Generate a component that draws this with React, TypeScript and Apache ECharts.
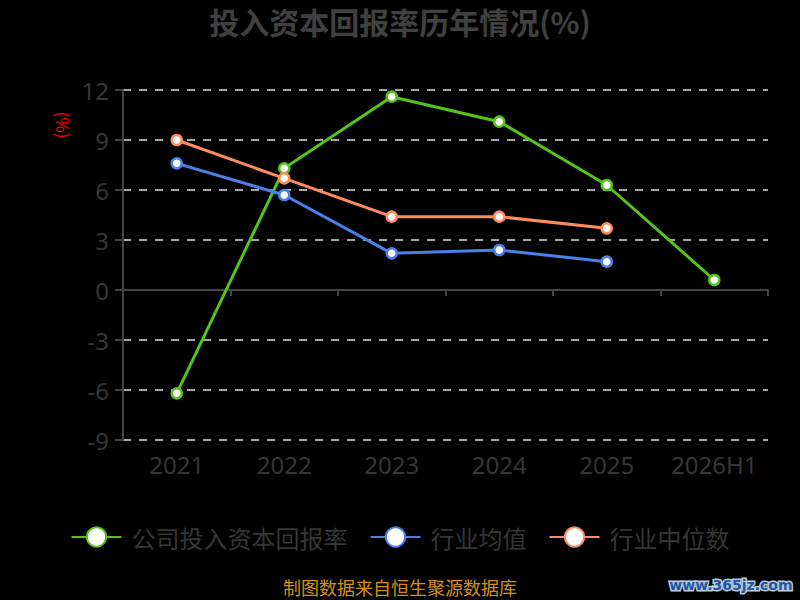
import React, { useEffect, useRef } from "react";
import * as echarts from "echarts";

const categories = ["2021", "2022", "2023", "2024", "2025", "2026H1"];
const companyValues = [-6.2, 7.3, 11.6, 10.1, 6.3, 0.6];
const industryAvg = [7.6, 5.7, 2.2, 2.4, 1.7, null];
const industryMedian = [9.0, 6.7, 4.4, 4.4, 3.7, null];
const seriesNames = ["公司投入资本回报率", "行业均值", "行业中位数"];
const seriesColors = ["#52c41a", "#4a80e8", "#ff8a5c"];

const FONT = "'Noto Sans CJK SC', 'Noto Sans', sans-serif";
const NUMFONT = "'Noto Sans', 'Open Sans', sans-serif";

export default function App() {
  const ref = useRef<HTMLDivElement>(null);
  useEffect(() => {
    if (!ref.current) return;
    const chart = echarts.init(ref.current, null, { renderer: "svg" });
    const mk = (name: string, data: any[], color: string) => ({
      name,
      type: "line",
      data,
      xAxisIndex: 0,
      symbol: "circle",
      symbolSize: 10,
      showSymbol: true,
      lineStyle: { color, width: 3 },
      itemStyle: { color: "#ffffff", borderColor: color, borderWidth: 2.5 },
      emphasis: { disabled: true },
    });
    chart.setOption({
      animation: false,
      backgroundColor: "#000000",
      textStyle: { fontFamily: FONT },
      title: {
        text: "投入资本回报率历年情况(%)",
        left: "center",
        top: 1,
        textStyle: { color: "#404040", fontSize: 30, fontWeight: "bold", fontFamily: FONT },
      },
      legend: {
        top: 520,
        left: "center",
        itemWidth: 50,
        itemHeight: 24,
        itemGap: 22,
        data: seriesNames,
        textStyle: { color: "#363636", fontSize: 24, fontFamily: FONT, padding: [0, 0, 0, 5] },
      },
      grid: { left: 123, right: 32, top: 90, bottom: 160, containLabel: false },
      xAxis: [
        {
          type: "category",
          data: categories,
          position: "bottom",
          boundaryGap: true,
          axisLine: { show: true, onZero: true, lineStyle: { color: "#444444", width: 2 } },
          axisTick: { show: true, length: 6, lineStyle: { color: "#444444", width: 2 } },
          axisLabel: { show: false },
          splitLine: { show: false },
        },
        {
          type: "category",
          data: categories,
          position: "bottom",
          boundaryGap: true,
          axisLine: { show: false, onZero: false },
          axisTick: { show: false },
          axisLabel: {
            show: true,
            interval: 0,
            hideOverlap: false,
            color: "#363636",
            fontSize: 24,
            margin: 12,
            fontFamily: NUMFONT,
          },
          splitLine: { show: false },
        },
      ],
      yAxis: {
        type: "value",
        min: -9,
        max: 12,
        interval: 3,
        axisLine: { show: true, lineStyle: { color: "#444444", width: 2 } },
        axisTick: { show: true, length: 8, lineStyle: { color: "#444444", width: 2 } },
        axisLabel: { color: "#363636", fontSize: 24, margin: 14, fontFamily: NUMFONT },
        splitLine: { show: true, lineStyle: { color: "#dddddd", type: [8, 8], width: 1.5 } },
      },
      graphic: [
        {
          type: "text",
          x: 63,
          y: 125,
          rotation: -Math.PI / 2,
          style: {
            text: "(%)",
            fill: "#ff0000",
            fontSize: 17,
            fontFamily: FONT,
            align: "center",
            verticalAlign: "middle",
          },
        },
        {
          type: "text",
          left: "center",
          top: 578,
          style: {
            text: "制图数据来自恒生聚源数据库",
            fill: "#d4910e",
            fontSize: 18,
            fontFamily: FONT,
          },
        },
        {
          type: "text",
          right: 6,
          top: 576,
          style: {
            text: "www.365jz.com",
            fill: "#1f56a0",
            stroke: "#b9c9dd",
            lineWidth: 3,
            fontSize: 14,
            fontWeight: "bold",
            fontFamily: "'DejaVu Sans', sans-serif",
          },
        },
      ],
      series: [
        mk(seriesNames[0], companyValues, seriesColors[0]),
        mk(seriesNames[1], industryAvg, seriesColors[1]),
        mk(seriesNames[2], industryMedian, seriesColors[2]),
      ],
    });
    return () => chart.dispose();
  }, []);
  return <div ref={ref} style={{ width: 800, height: 600, position: "absolute", left: 0, top: 0 }} />;
}
